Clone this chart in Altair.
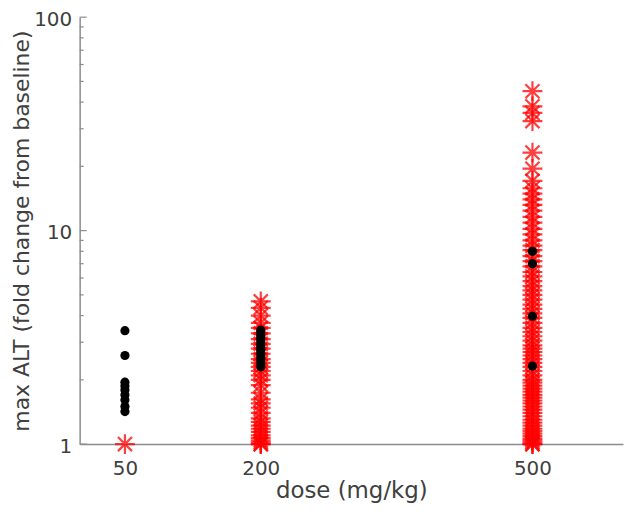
import altair as alt
import pandas as pd

# doses with each group's values (max ALT fold change)
black_50 = [3.4, 2.6, 1.95, 1.87, 1.79, 1.7, 1.61, 1.5, 1.42]
red_50 = [1.0]

black_200 = [3.42, 3.32, 3.22, 3.12, 3.02, 2.92, 2.84, 2.75, 2.66, 2.56, 2.47, 2.38, 2.3]
red_200 = [4.66, 4.35, 4.0, 3.7, 3.5, 3.3, 3.1, 2.95, 2.8, 2.65, 2.5, 2.4, 2.3, 2.2,
           2.1, 2.0, 1.89, 1.74, 1.62, 1.55, 1.48, 1.4, 1.32, 1.27, 1.22, 1.18, 1.14,
           1.1, 1.07, 1.04, 1.02, 1.0, 1.0]

black_500 = [8.0, 7.0, 3.97, 2.32]
red_500 = [45.0, 38.2, 35.6, 32.6, 23.2, 19.5, 17.1, 15.8, 14.9, 14.0, 13.2, 12.4,
           11.6, 10.9, 10.2, 9.6, 9.0, 8.5, 8.1, 7.6, 7.2, 6.8, 6.4, 6.1, 5.8, 5.5,
           5.25, 5.0, 4.75, 4.5, 4.3, 4.1, 3.9, 3.7, 3.5, 3.35, 3.2, 3.05, 2.9, 2.8,
           2.7, 2.6, 2.5, 2.4, 2.3, 2.2, 2.1, 2.0, 1.94, 1.88, 1.82, 1.76, 1.7, 1.65,
           1.6, 1.55, 1.5, 1.45, 1.4, 1.35, 1.3, 1.26, 1.22, 1.18, 1.15, 1.12, 1.09,
           1.06, 1.04, 1.02, 1.0, 1.0]

x_ticks = [50, 200, 500]
y_ticks = [1, 10, 100]
y_minor = [2, 3, 4, 5, 6, 7, 8, 9, 20, 30, 40, 50, 60, 70, 80, 90]

red_rows = ([{"dose": 50, "alt": v} for v in red_50]
            + [{"dose": 200, "alt": v} for v in red_200]
            + [{"dose": 500, "alt": v} for v in red_500])
black_rows = ([{"dose": 50, "alt": v} for v in black_50]
              + [{"dose": 200, "alt": v} for v in black_200]
              + [{"dose": 500, "alt": v} for v in black_500])
red_df = pd.DataFrame(red_rows)
black_df = pd.DataFrame(black_rows)
minor_df = pd.DataFrame({"alt": y_minor})
major_df = pd.DataFrame({"alt": y_ticks})

FONT = "DejaVu Sans"
xscale = alt.Scale(domain=[0, 600], nice=False, zero=False)
yscale = alt.Scale(type="log", domain=[1, 100], nice=False)

xenc = alt.X("dose:Q", scale=xscale,
             axis=alt.Axis(title="dose (mg/kg)", values=x_ticks, grid=False,
                           ticks=False, tickSize=0, labelPadding=15,
                           titlePadding=1, titleFontSize=23,
                           domainColor="#8c8c8c", domainWidth=1.5))
yenc = alt.Y("alt:Q", scale=yscale,
             axis=alt.Axis(title="max ALT (fold change from baseline)",
                           values=y_ticks, grid=False, ticks=False, tickSize=0,
                           labelPadding=8, titlePadding=0, labelOffset=2,
                           titleFontSize=22,
                           labelExpr="datum.value == 1 ? '1\u00a0\u00a0' : datum.label",
                           domainColor="#8c8c8c", domainWidth=1.5))

asterisk = ("M-1,0L1,0M0,-1L0,1M-0.7071,-0.7071L0.7071,0.7071"
            "M-0.7071,0.7071L0.7071,-0.7071")

red = alt.Chart(red_df).mark_point(
    shape=asterisk, size=400, filled=False, stroke="#ff0000",
    strokeWidth=2.2, opacity=0.75
).encode(x=xenc, y=yenc)

black = alt.Chart(black_df).mark_circle(
    size=85, color="#000000", opacity=1
).encode(x="dose:Q", y="alt:Q")

minor = alt.Chart(minor_df).mark_rule(color="#8c8c8c", strokeWidth=1.2).encode(
    y="alt:Q", x=alt.value(0), x2=alt.value(4))
major = alt.Chart(major_df).mark_rule(color="#8c8c8c", strokeWidth=1.2).encode(
    y="alt:Q", x=alt.value(0), x2=alt.value(7))

chart = alt.layer(minor, major, red, black).properties(
    width=546, height=429,
    autosize=alt.AutoSizeParams(type="none"),
    padding={"left": 72, "top": 8, "right": 2, "bottom": 61},
).configure_view(stroke=None).configure_axis(
    labelFont=FONT, titleFont=FONT, labelFontSize=20,
    labelColor="#404040", titleColor="#404040", titleFontWeight="normal"
)

chart.save("out.html", embed_options={"renderer": "svg", "actions": False})
